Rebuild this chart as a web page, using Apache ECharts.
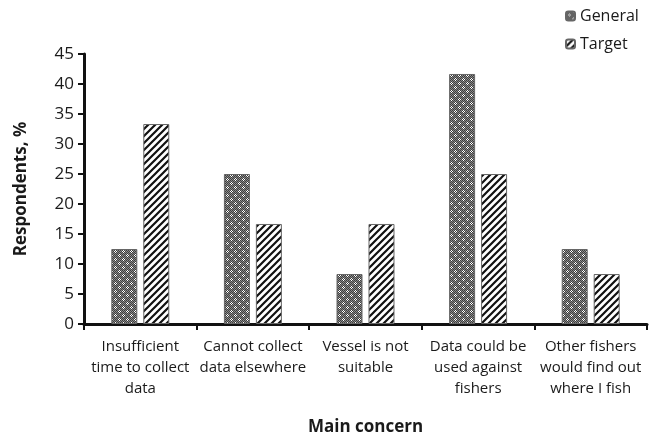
<!DOCTYPE html>
<html>
<head>
<meta charset="utf-8">
<script src="https://cdn.jsdelivr.net/npm/echarts@6/dist/echarts.min.js"></script>
<style>
  html, body { margin: 0; padding: 0; background: #fff; }
  #chart { width: 662px; height: 436px; }
</style>
</head>
<body>
<div id="chart"></div>
<script>
var categories = [
  'Insufficient\ntime to collect\ndata',
  'Cannot collect\ndata elsewhere',
  'Vessel is not\nsuitable',
  'Data could be\nused against\nfishers',
  'Other fishers\nwould find out\nwhere I fish'
];
var generalValues = [12.5, 25, 8.33, 41.67, 12.5];
var targetValues = [33.33, 16.67, 16.67, 25, 8.33];
var yTicks = [0, 45, 5]; // min, max, step

// dotted grey fill for "General"
function dotPattern() {
  var c = document.createElement('canvas');
  c.width = 8; c.height = 8;
  var ctx = c.getContext('2d');
  ctx.fillStyle = '#8a8a8a';
  ctx.fillRect(0, 0, 8, 8);
  ctx.fillStyle = '#3e3e3e';
  for (var x = 0; x < 8; x++) {
    for (var y = 0; y < 8; y++) {
      if ((x + y) % 2 === 0) ctx.fillRect(x, y, 1, 1);
    }
  }
  ctx.fillStyle = '#fff';
  [[3, 2], [4, 3], [3, 4], [2, 3], [7, 6], [0, 7], [7, 0], [6, 7]].forEach(function (p) {
    ctx.fillRect(p[0], p[1], 1, 1);
  });
  return c;
}

// diagonal hatching for "Target"
function hatchPattern() {
  var s = 7;
  var c = document.createElement('canvas');
  c.width = s; c.height = s;
  var ctx = c.getContext('2d');
  ctx.fillStyle = '#fff';
  ctx.fillRect(0, 0, s, s);
  ctx.strokeStyle = '#111';
  ctx.lineWidth = 2.2;
  ctx.beginPath();
  ctx.moveTo(-1, s + 1); ctx.lineTo(s + 1, -1);
  ctx.moveTo(-1, 1); ctx.lineTo(1, -1);
  ctx.moveTo(s - 1, s + 1); ctx.lineTo(s + 1, s - 1);
  ctx.stroke();
  return c;
}

var font = 'Open Sans';
var chart = echarts.init(document.getElementById('chart'));

chart.setOption({
  animation: false,
  textStyle: { fontFamily: font },
  grid: { left: 84, right: 15, top: 54, bottom: 112, containLabel: false, outerBoundsMode: 'none' },
  legend: {
    orient: 'vertical',
    left: 560,
    top: 2,
    itemWidth: 9,
    itemHeight: 9,
    itemGap: 10,
    textStyle: { fontSize: 16, lineHeight: 18, color: '#1a1a1a', fontFamily: font, padding: [0, 0, 0, 0] },
    data: ['General', 'Target']
  },
  xAxis: {
    type: 'category',
    data: categories,
    name: 'Main concern',
    nameLocation: 'middle',
    nameGap: 95,
    nameTextStyle: { fontSize: 17, fontWeight: 'bold', color: '#1a1a1a', fontFamily: font },
    axisLine: { lineStyle: { color: '#111', width: 3 } },
    axisTick: { show: true, length: 6, lineStyle: { color: '#111', width: 2 } },
    axisLabel: { interval: 0, fontSize: 15, color: '#1a1a1a', lineHeight: 21, margin: 12 }
  },
  yAxis: {
    type: 'value',
    min: yTicks[0],
    max: yTicks[1],
    interval: yTicks[2],
    name: 'Respondents, %',
    nameLocation: 'middle',
    nameGap: 54,
    nameTextStyle: { fontSize: 17, fontWeight: 'bold', color: '#1a1a1a', fontFamily: font },
    axisLine: { show: true, lineStyle: { color: '#111', width: 3 } },
    axisTick: { show: true, length: 6, lineStyle: { color: '#111', width: 2 } },
    axisLabel: { fontSize: 17, color: '#1a1a1a', margin: 10 },
    splitLine: { show: false }
  },
  series: [
    {
      name: 'General',
      type: 'bar',
      data: generalValues,
      barWidth: 26,
      barGap: '23%',
      itemStyle: {
        color: { image: dotPattern(), repeat: 'repeat' },
        borderColor: '#666',
        borderWidth: 1
      }
    },
    {
      name: 'Target',
      type: 'bar',
      data: targetValues,
      barWidth: 26,
      itemStyle: {
        color: { image: hatchPattern(), repeat: 'repeat' },
        borderColor: '#666',
        borderWidth: 1
      }
    }
  ]
});
</script>
</body>
</html>
